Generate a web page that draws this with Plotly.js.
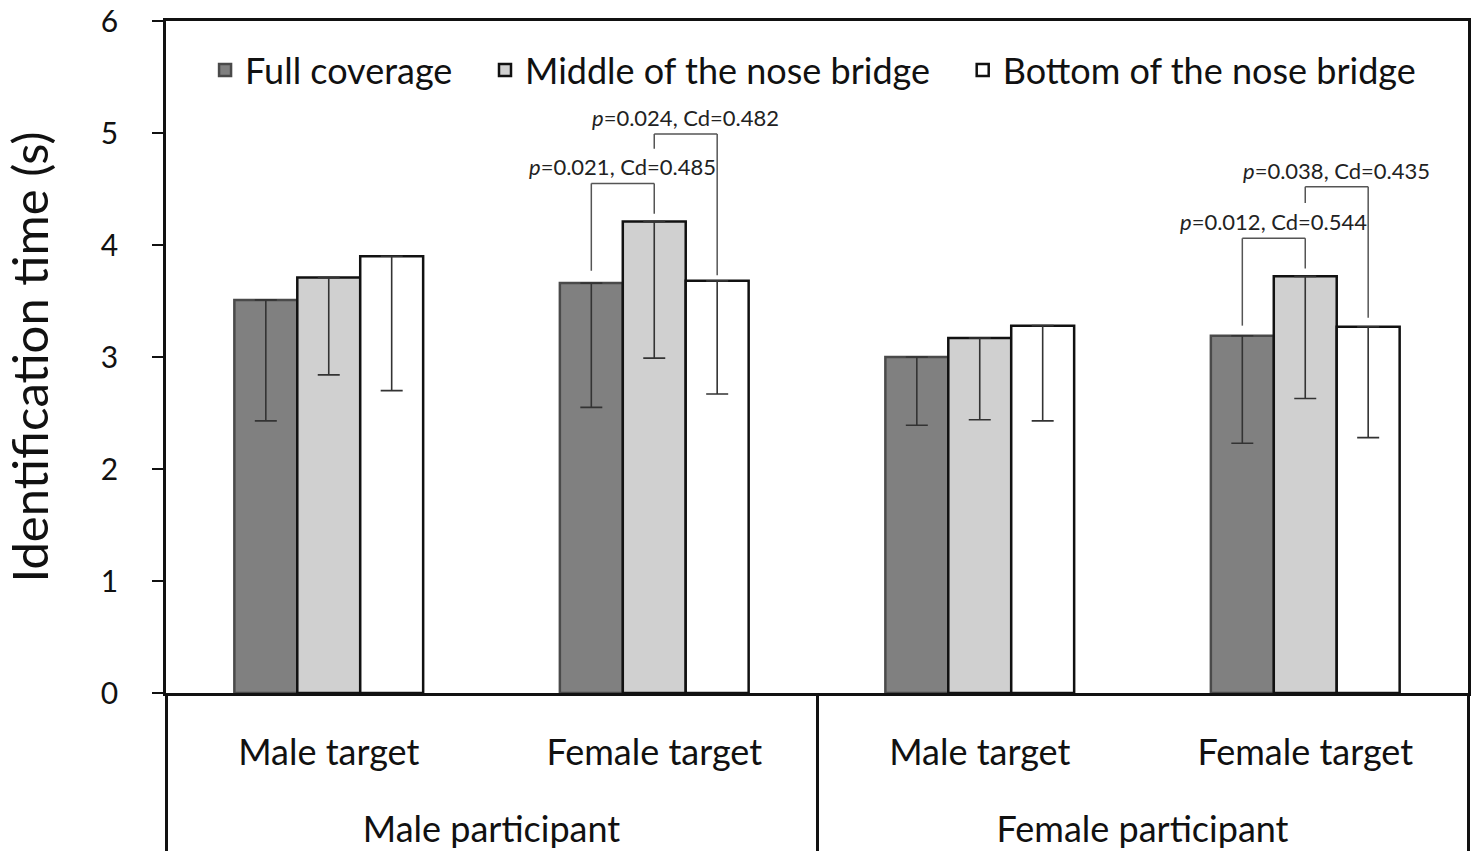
<!DOCTYPE html>
<html>
<head>
<meta charset="utf-8">
<script src="https://cdn.plot.ly/plotly-3.0.1.min.js"></script>
<style>
  html, body { margin: 0; padding: 0; background: #fff; }
  #chart { width: 1477px; height: 868px; }
</style>
</head>
<body>
<div id="chart"></div>
<script>
const participants = ['Male participant', 'Male participant', 'Female participant', 'Female participant'];
// a blank second line keeps the two label rows apart
const GAP = '<br><span style="font-size:83px">\u00a0</span>';
const targets = ['Male target', 'Female target', 'Male target', 'Female target'].map(t => t + GAP);

const seriesNames = ['Full coverage', 'Middle of the nose bridge', 'Bottom of the nose bridge'];
const fullCov = [3.51, 3.66, 3.00, 3.19];
const fullErr = [1.08, 1.11, 0.61, 0.96];
const middle = [3.71, 4.21, 3.17, 3.72];
const middleErr = [0.87, 1.22, 0.73, 1.09];
const bottom = [3.90, 3.68, 3.28, 3.27];
const bottomErr = [1.20, 1.01, 0.85, 0.99];

// significance brackets: category index, series from/to, levels in seconds
const cmpCat = [1, 1, 3, 3];
const cmpFrom = [0, 1, 0, 1];
const cmpTo = [1, 2, 1, 2];
const cmpTop = [4.55, 4.99, 4.06, 4.52];
const cmpLeftEnd = [3.77, 4.86, 3.28, 4.375];
const cmpRightEnd = [4.28, 3.73, 3.79, 3.35];
const cmpP = ['0.021', '0.024', '0.012', '0.038'];
const cmpCd = ['0.485', '0.482', '0.544', '0.435'];

const FONT = 'Lato, "Open Sans", sans-serif';
const BARGAP = 0.42;
const fills = ['#808080', '#d0d0d0', '#ffffff'];
const edges = ['#4a4a4a', '#111111', '#111111'];
const vals = [fullCov, middle, bottom];
const errs = [fullErr, middleErr, bottomErr];
const pad = ['\u00a0\u00a0\u00a0', '\u00a0\u00a0\u00a0', ''];

const traces = vals.map((v, i) => ({
  type: 'bar',
  name: seriesNames[i] + pad[i],
  x: [participants, targets],
  y: v,
  marker: { color: fills[i], line: { color: edges[i], width: 2.5 } },
  error_y: {
    type: 'data', symmetric: false,
    array: v.map(() => 0), arrayminus: errs[i],
    color: '#333', thickness: 1.6, width: 11,
  },
  hoverinfo: 'y',
}));

// bar centre offset in category units
const barW = (1 - BARGAP) / 3;
const xOf = (cat, s) => cat + (s - 1) * barW;

const shapes = [];
const annotations = [];
cmpCat.forEach((c, k) => {
  const x0 = xOf(c, cmpFrom[k]);
  const x1 = xOf(c, cmpTo[k]);
  const line = { color: '#555', width: 1.5 };
  shapes.push(
    { type: 'line', xref: 'x', yref: 'y', x0: x0, x1: x0, y0: cmpLeftEnd[k], y1: cmpTop[k], line },
    { type: 'line', xref: 'x', yref: 'y', x0: x0, x1: x1, y0: cmpTop[k], y1: cmpTop[k], line },
    { type: 'line', xref: 'x', yref: 'y', x0: x1, x1: x1, y0: cmpTop[k], y1: cmpRightEnd[k], line },
  );
  annotations.push({
    xref: 'x', yref: 'y', x: (x0 + x1) / 2, y: cmpTop[k],
    yanchor: 'bottom', yshift: 1, showarrow: false,
    text: `<i>p</i>=${cmpP[k]}, Cd=${cmpCd[k]}`,
    font: { family: FONT, size: 22, color: '#222' },
  });
});

Plotly.newPlot('chart', traces, {
  width: 1477, height: 868,
  paper_bgcolor: '#fff', plot_bgcolor: '#fff',
  font: { family: FONT, color: '#111' },
  margin: { l: 166, r: 9, t: 21, b: 175 },
  barmode: 'group', bargap: BARGAP, bargroupgap: 0,
  showlegend: true,
  legend: {
    orientation: 'h', x: 0.03, y: 0.927, xanchor: 'left', yanchor: 'middle',
    font: { family: FONT, size: 36, color: '#111' }, bgcolor: 'rgba(0,0,0,0)',
    traceorder: 'normal',
  },
  xaxis: {
    type: 'multicategory',
    showline: true, linecolor: '#111', linewidth: 2.5, mirror: true,
    ticks: '', ticklabelstandoff: 26,
    showdividers: true, dividercolor: '#111', dividerwidth: 2.5,
    tickfont: { family: FONT, size: 36, color: '#111' },
    showgrid: false, zeroline: false,
  },
  yaxis: {
    range: [0, 6], dtick: 1, ticks: 'outside', ticklen: 11, tickwidth: 2, tickcolor: '#111',
    showline: true, linecolor: '#111', linewidth: 2.5, mirror: true,
    tickfont: { family: FONT, size: 30, color: '#111' },
    ticklabelstandoff: 28,
    showgrid: false, zeroline: false,
    title: { text: 'Identification time (s)', font: { family: FONT, size: 49, color: '#111' }, standoff: 42 },
  },
  shapes, annotations,
}, { displayModeBar: false });
</script>
</body>
</html>
